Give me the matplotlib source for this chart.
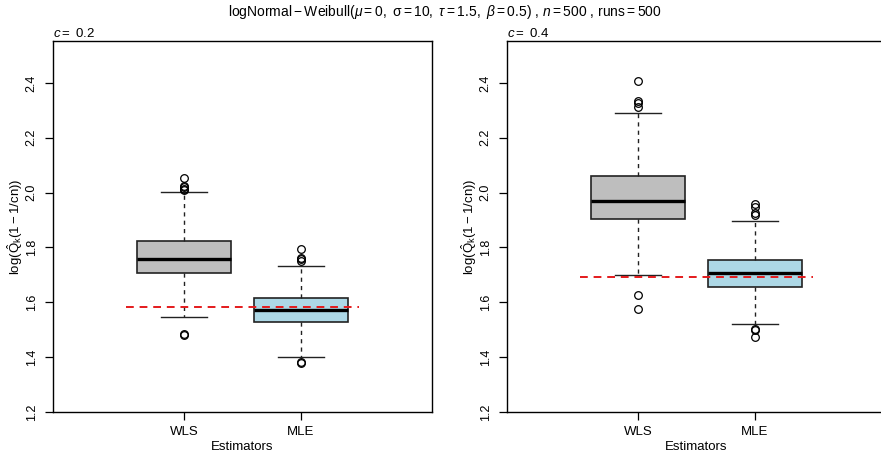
import matplotlib
matplotlib.use("Agg")
import matplotlib.pyplot as plt

plt.rcParams["font.family"] = ["Liberation Sans", "DejaVu Sans"]
plt.rcParams["mathtext.fontset"] = "custom"
plt.rcParams["mathtext.rm"] = "Liberation Sans"
plt.rcParams["mathtext.it"] = "Liberation Sans:italic"
plt.rcParams["mathtext.bf"] = "Liberation Sans:bold"

# ---- data ----
estimators = ["WLS", "MLE"]
c_values = ["0.2", "0.4"]

# c = 0.2
wls_02 = [1.546, 1.706, 1.758, 1.825, 2.002]      # whislo, q1, med, q3, whishi
wls_02_out = [1.480, 1.486, 2.010, 2.015, 2.020, 2.024, 2.053]
mle_02 = [1.402, 1.530, 1.573, 1.617, 1.734]
mle_02_out = [1.378, 1.383, 1.752, 1.757, 1.762, 1.795]
ref_02 = 1.583

# c = 0.4
wls_04 = [1.701, 1.904, 1.971, 2.061, 2.289]
wls_04_out = [1.575, 1.626, 2.311, 2.327, 2.335, 2.407]
mle_04 = [1.522, 1.656, 1.706, 1.756, 1.897]
mle_04_out = [1.475, 1.499, 1.504, 1.919, 1.924, 1.949, 1.958]
ref_04 = 1.693

yticks = [1.2, 1.4, 1.6, 1.8, 2.0, 2.2, 2.4]
box_colors = ["#BEBEBE", "#ADD8E6"]


def stats(five, out, label):
    return dict(whislo=five[0], q1=five[1], med=five[2], q3=five[3],
                whishi=five[4], fliers=out, label=label)


panels = [
    (c_values[0], [stats(wls_02, wls_02_out, "WLS"), stats(mle_02, mle_02_out, "MLE")], ref_02),
    (c_values[1], [stats(wls_04, wls_04_out, "WLS"), stats(mle_04, mle_04_out, "MLE")], ref_04),
]

W, H = 881, 457
fig = plt.figure(figsize=(W / 100, H / 100), dpi=100)

ax_left = [53, 507]
for (cval, st, ref), x0 in zip(panels, ax_left):
    ax = fig.add_axes([x0 / W, 1 - 412 / H, 379 / W, 371 / H])
    bp = ax.bxp(st, positions=[1, 2], widths=0.8, patch_artist=True,
                showfliers=True,
                boxprops=dict(edgecolor="#222222", linewidth=1.2),
                medianprops=dict(color="black", linewidth=2.4),
                whiskerprops=dict(color="#222222", linewidth=1.0, linestyle=(0, (3, 3))),
                capprops=dict(color="#222222", linewidth=1.0),
                capwidths=0.4,
                flierprops=dict(marker="o", markerfacecolor="none",
                                markeredgecolor="black", markersize=5.5,
                                markeredgewidth=0.9))
    for patch, col in zip(bp["boxes"], box_colors):
        patch.set_facecolor(col)
    ax.hlines(ref, 0.5, 2.5, colors="#E41A1C", linestyles=(0, (4, 3)),
              linewidth=1.4, zorder=5)

    ax.set_xlim(-0.12, 3.12)
    ax.set_ylim(1.2, 2.553)
    ax.set_yticks(yticks)
    ax.set_yticklabels([f"{t:.1f}" for t in yticks], rotation=90, va="center",
                       fontsize=9)
    ax.set_xticks([1, 2])
    ax.set_xticklabels(estimators, fontsize=9.5)
    ax.tick_params(direction="out", length=6, width=0.9, pad=4)
    ax.tick_params(axis="y", pad=5)
    for s in ax.spines.values():
        s.set_linewidth(1.0)
    ax.set_xlabel("Estimators", fontsize=9.5, labelpad=2)
    ax.set_ylabel(r"$\mathrm{log}(\hat{\mathrm{Q}}_{\mathrm{k}}(1-1/\mathrm{cn}))$",
                  fontsize=9.5, va="center")
    ax.yaxis.set_label_coords(-0.100, 0.5)
    ax.set_title(r"$c=$ " + cval, loc="left", fontsize=9.5, pad=3)

fig.text(0.505, 1 - 12 / H,
         r"$\mathrm{logNormal}-\mathrm{Weibull}\left(\mu=0,\ \mathrm{\sigma}=10,\ \tau=1.5,\ \beta=0.5\right)$"
         r" , $n=500$ , $\mathrm{runs}=500$",
         ha="center", va="center", fontsize=10)

fig.savefig("out.png", dpi=100)
